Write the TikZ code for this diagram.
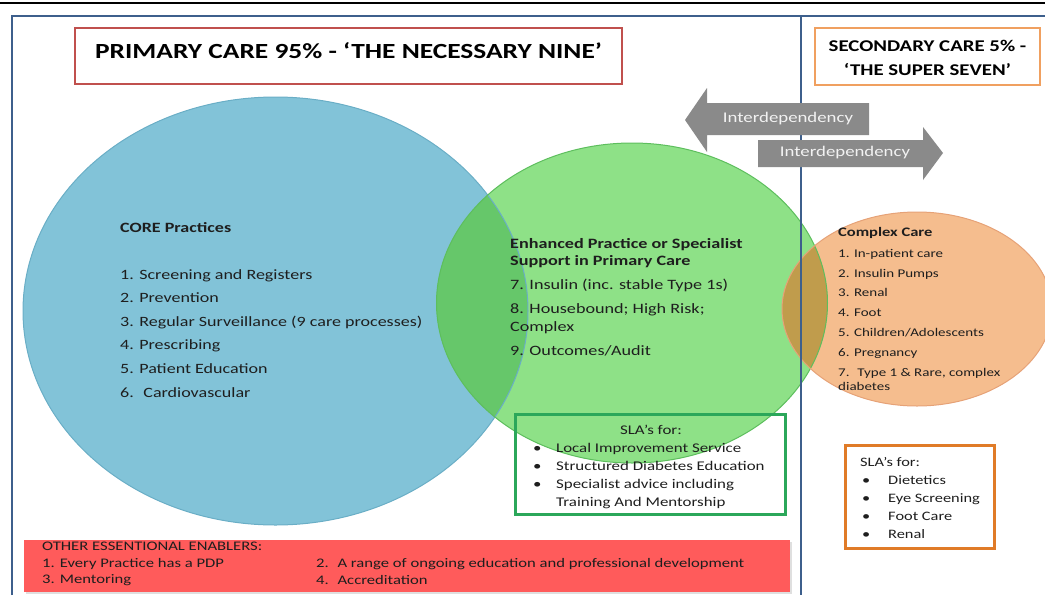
\documentclass[tikz,border=0pt]{standalone}
\usepackage{fontspec}
\setmainfont{Carlito}[FakeStretch=1.27]
\usetikzlibrary{shadows}
\definecolor{frameblue}{HTML}{3D5F8C}
\definecolor{titlered}{HTML}{C0504D}
\definecolor{titleorange}{HTML}{F0A060}
\definecolor{corefill}{HTML}{82C3D8}
\definecolor{coreedge}{HTML}{6AAEC6}
\definecolor{enhfill}{HTML}{8EE187}
\definecolor{enhedge}{HTML}{5DBE5D}
\definecolor{overlapbg}{HTML}{66C76A}
\definecolor{cplxfill}{HTML}{F5BD8E}
\definecolor{cplxedge}{HTML}{E6A277}
\definecolor{overlapgo}{HTML}{C09C4C}
\definecolor{arrowgray}{HTML}{8A8A8A}
\definecolor{slagreen}{HTML}{2BA75A}
\definecolor{slaorange}{HTML}{E07B28}
\definecolor{enabred}{HTML}{FF5B5B}
\definecolor{inkdark}{HTML}{1E1E1E}
\begin{document}
\begin{tikzpicture}[x=1pt, y=-1pt,
  txt/.style={anchor=north west, inner sep=0pt, align=left, text=inkdark},
  arrowlbl/.style={inner sep=0pt, text=white!95!black, font=\fontsize{14.8}{18}\selectfont}]
\useasboundingbox (0,0) rectangle (1045,595);
% circles
\coordinate (corec) at (275.5,311);
\coordinate (enhc) at (632,303);
\coordinate (cplxc) at (917,309);
\fill[corefill] (corec) ellipse [x radius=252.5pt, y radius=214pt];
\fill[enhfill] (enhc) ellipse [x radius=195.5pt, y radius=160pt];
\begin{scope}
\clip (corec) ellipse [x radius=252.5pt, y radius=214pt];
\fill[overlapbg] (enhc) ellipse [x radius=195.5pt, y radius=160pt];
\end{scope}
\fill[cplxfill] (cplxc) ellipse [x radius=135pt, y radius=97pt];
\begin{scope}
\clip (cplxc) ellipse [x radius=135pt, y radius=97pt];
\fill[overlapgo] (enhc) ellipse [x radius=195.5pt, y radius=160pt];
\end{scope}
\draw[coreedge, line width=1pt] (corec) ellipse [x radius=252.5pt, y radius=214pt];
\draw[enhedge, line width=1pt] (enhc) ellipse [x radius=195.5pt, y radius=160pt];
\draw[cplxedge, line width=1pt] (cplxc) ellipse [x radius=135pt, y radius=97pt];
% frame
\draw[black, line width=1.5pt] (0,3) -- (1045,3);
\draw[frameblue, line width=2pt] (12,595) -- (12,16) -- (1045,16);
\draw[frameblue, line width=2pt] (801,16) -- (801,595);
% titles
\node[draw=titlered, line width=1.8pt, minimum width=547pt, minimum height=56pt,
  font=\bfseries\fontsize{21.6}{24}\selectfont, text height=16pt, text depth=12pt]
  (primtitle) at (348.5,56) {PRIMARY CARE 95\% - ‘THE NECESSARY NINE’};
\node[draw=titleorange, line width=1.8pt, minimum width=225pt, minimum height=57pt] (sectitle) at (927.5,56.5) {};
\node[font=\bfseries\fontsize{16.4}{24}\selectfont, align=center, inner sep=0pt, yshift=-1.6pt]
  (sectext) at (sectitle.center) {SECONDARY CARE 5\% -\\‘THE SUPER SEVEN’};
% interdependency arrows
\fill[arrowgray] (869,103) -- (707,103) -- (707,88) -- (685,120) -- (707,152) -- (707,135) -- (869,135) -- cycle;
\fill[arrowgray] (758,140) -- (923,140) -- (923,127) -- (943,153) -- (923,180) -- (923,167) -- (758,167) -- cycle;
\node[arrowlbl] (leftlbl) at (788,119) {Interdependency};
\node[arrowlbl] (rightlbl) at (845,153) {Interdependency};
% core practices
\node[txt, font=\bfseries\fontsize{14.2}{17}\selectfont] (corehead) at (120,222) {CORE Practices};
\node[txt, font=\fontsize{14.2}{23.6}\selectfont] (corelist) at (120,269)
  {1. Screening and Registers\\2. Prevention\\3. Regular Surveillance (9 care processes)\\4. Prescribing\\5. Patient Education\\6.~ Cardiovascular};
% enhanced practice
\node[txt, font=\fontsize{14.3}{17.5}\selectfont] (enhlist) at (510,238)
  {\textbf{Enhanced Practice or Specialist}\\\textbf{Support in Primary Care}\\[6.5pt]
   7. Insulin (inc. stable Type 1s)\\[6.5pt]8. Housebound; High Risk;\\Complex\\[6.5pt]9. Outcomes/Audit};
% complex care
\node[txt, font=\fontsize{11.8}{14}\selectfont] (cplxlist) at (838,227)
  {\textbf{\fontsize{13}{14}\selectfont Complex Care}\\[7pt]1. In-patient care\\[5.8pt]2. Insulin Pumps\\[5.8pt]3. Renal\\[5.8pt]4. Foot\\[5.8pt]5. Children/Adolescents\\[5.8pt]6. Pregnancy\\[5.8pt]7.~ Type 1 \& Rare, complex\\diabetes};
% SLA boxes
\node[draw=slagreen, line width=3pt, minimum width=270pt, minimum height=100pt] (slagbox) at (650.5,464.5) {};
\node[inner sep=0pt, text=inkdark, font=\fontsize{13.3}{18}\selectfont] (slaghead) at (651,430) {SLA’s for:};
\node[txt, font=\fontsize{13.3}{18}\selectfont] (slaglist) at (533,442.6)
  {\makebox[23pt][l]{•}Local Improvement Service\\\makebox[23pt][l]{•}Structured Diabetes Education\\\makebox[23pt][l]{•}Specialist advice including\\\makebox[23pt][l]{}Training And Mentorship};
\node[draw=slaorange, line width=3pt, minimum width=149pt, minimum height=103pt] (slaobox) at (919.5,496.5) {};
\node[txt, font=\fontsize{12.9}{18}\selectfont] (slaolist) at (860,457)
  {SLA’s for:\\\makebox[28pt][l]{\hspace{2pt}•}Dietetics\\\makebox[28pt][l]{\hspace{2pt}•}Eye Screening\\\makebox[28pt][l]{\hspace{2pt}•}Foot Care\\\makebox[28pt][l]{\hspace{2pt}•}Renal};
% enablers
\node[fill=enabred, minimum width=766pt, minimum height=52pt, inner sep=0pt,
  drop shadow={opacity=0.25, shadow xshift=1.5pt, shadow yshift=-1.5pt}] (enabbox) at (407,566) {};
\node[txt, font=\fontsize{13.1}{16.5}\selectfont] (enabl) at (42,542)
  {OTHER ESSENTIONAL ENABLERS:\\1. Every Practice has a PDP\\3. Mentoring};
\node[txt, font=\fontsize{13.1}{16.5}\selectfont] (enabr) at (316,558.5)
  {2.~ A range of ongoing education and professional development\\4.~ Accreditation};
\end{tikzpicture}
\end{document}
